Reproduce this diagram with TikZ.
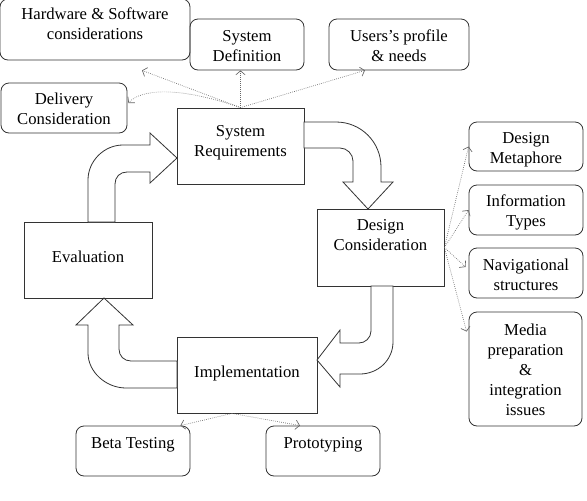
\documentclass[tikz,border=0pt]{standalone}
\usepackage{fontspec}
\setmainfont{Liberation Serif}
\usetikzlibrary{arrows.meta,calc}

\begin{document}
\begin{tikzpicture}[x=0.75pt,y=-0.75pt,
  tbox/.style={rectangle, draw=black!80, line width=0.6pt, align=center, inner sep=1pt,
    font=\fontsize{12.5}{15}\selectfont, text height=24pt, text depth=3pt},
  rbox/.style={tbox, rounded corners=6pt},
  bigarr/.style={draw=black!80, line width=0.6pt, fill=white, line join=miter},
  dotarr/.style={densely dotted, black!60, line width=0.5pt, -{Straight Barb[length=3pt,width=7pt]}}
]
  \useasboundingbox (0,0) rectangle (587,501);

  % main cycle
  \node[tbox, minimum width=95.25pt, minimum height=57pt, text depth=9pt] (sysreq) at (240.5,146) {System\\Requirements};
  \node[tbox, minimum width=95.25pt, minimum height=57.75pt, text depth=20.25pt] (design) at (380.5,247.5) {Design\\Consideration};
  \node[tbox, minimum width=105pt, minimum height=57pt, text height=9pt, text depth=6pt] (impl) at (247,375) {Implementation};
  \node[tbox, minimum width=96pt, minimum height=57pt, text height=9pt, text depth=6pt] (eval) at (88,260) {Evaluation};

  % side boxes
  \node[rbox, minimum width=142.5pt, minimum height=45.75pt, text depth=9.75pt] (hw) at (95,29.5) {Hardware \& Software\\considerations};
  \node[rbox, minimum width=85.5pt, minimum height=38.25pt, text height=28.5pt] (sysdef) at (247,44.5) {System\\Definition};
  \node[rbox, minimum width=105pt, minimum height=38.25pt, text height=28.5pt] (users) at (399,44.5) {Users’s profile\\\& needs};
  \node[rbox, minimum width=94.5pt, minimum height=37.5pt, text height=27pt] (deliv) at (64,108) {Delivery\\Consideration};

  \node[rbox, minimum width=85.5pt, minimum height=36.75pt, text height=27.75pt] (meta) at (526,146.5) {Design\\Metaphore};
  \node[rbox, minimum width=85.5pt, minimum height=37.5pt, text height=27.75pt] (info) at (526,210) {Information\\Types};
  \node[rbox, minimum width=85.5pt, minimum height=37.5pt, text height=29.25pt] (navi) at (526,273) {Navigational\\structures};
  \node[rbox, minimum width=84.75pt, minimum height=85.5pt, text height=72.75pt] (media) at (525.5,369) {Media\\preparation\\\&\\integration\\issues};

  \node[rbox, minimum width=85.5pt, minimum height=37.5pt, text height=9pt, text depth=13.5pt] (beta) at (133,451) {Beta Testing};
  \node[rbox, minimum width=85.5pt, minimum height=37.5pt, text height=9pt, text depth=13.5pt] (proto) at (323,451) {Prototyping};

  % block arrows
  \draw[bigarr] (88,222) -- (88,180) .. controls (88,161) and (104,145) .. (123,145) -- (150,145) -- (150,133)
    -- (177,158) -- (150,183) -- (150,172) -- (127,172) .. controls (120,172) and (115,177) .. (115,184) -- (115,222) -- cycle;
  \draw[bigarr] (304,122) -- (336,122) .. controls (361,122) and (381,142) .. (381,167) -- (381,182) -- (393,182)
    -- (368,209) -- (343,182) -- (353,182) -- (353,161) .. controls (353,154) and (347,148) .. (340,148) -- (304,148) -- cycle;
  \draw[bigarr] (371,286) -- (371,331) .. controls (371,338) and (365,343) .. (359,343) -- (340,343) -- (340,330)
    -- (317,360) -- (340,387) -- (340,374) -- (360,374) .. controls (378,374) and (393,360) .. (393,342) -- (393,286) -- cycle;
  \draw[bigarr] (177,361) -- (131,361) .. controls (124,361) and (119,356) .. (119,349) -- (119,325) -- (133,325)
    -- (104,298) -- (76,325) -- (88,325) -- (88,353) .. controls (88,372) and (106,388) .. (126,388) -- (177,388) -- cycle;

  % dotted links
  \draw[dotarr] (sysreq.north) -- ([shift={(47,10)}]hw.south);
  \draw[dotarr] (sysreq.north) -- (sysreq.north |- sysdef.south);
  \draw[dotarr] (sysreq.north) -- ([shift={(-34,0)}]users.south);
  \draw[dotarr] (sysreq.north) .. controls (175,85) and (140,90) .. ([shift={(1,-5)}]deliv.east);

  \draw[dotarr] (design.east) -- (meta.west);
  \draw[dotarr] (design.east) -- (info.west);
  \draw[dotarr] (design.east) -- ([shift={(-3,-6)}]navi.west);
  \draw[dotarr] (design.east) -- ([shift={(-2,20)}]media.north west);

  \draw[dotarr] ([shift={(-15,0)}]impl.south) -- ([shift={(-10,0)}]beta.north east);
  \draw[dotarr] ([shift={(-15,0)}]impl.south) -- ([shift={(-23,0)}]proto.north);
\end{tikzpicture}
\end{document}
